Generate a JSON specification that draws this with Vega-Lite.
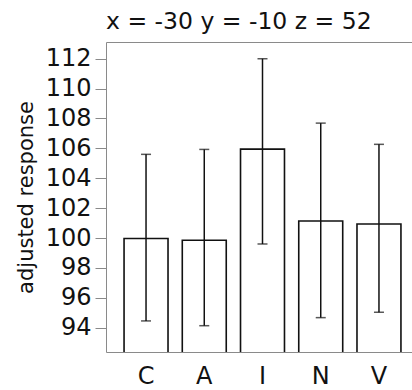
{
  "$schema": "https://vega.github.io/schema/vega-lite/v6.json",
  "autosize": "none",
  "padding": {"left": 106, "top": 42, "right": 0, "bottom": 38},
  "width": 313,
  "height": 310,
  "background": "white",
  "config": {
    "font": "DejaVu Sans",
    "view": {"stroke": "#8a8a8a", "strokeWidth": 1}
  },
  "title": {
    "text": "x = -30 y = -10 z = 52",
    "anchor": "start",
    "frame": "group",
    "fontSize": 23.5,
    "fontWeight": "normal",
    "font": "DejaVu Sans",
    "color": "#111",
    "offset": 9
  },
  "data": {
    "values": [
      {"group": "C", "response": 99.97, "lo": 94.45, "hi": 105.6},
      {"group": "A", "response": 99.85, "lo": 94.13, "hi": 105.93},
      {"group": "I", "response": 105.95, "lo": 99.6, "hi": 112.0},
      {"group": "N", "response": 101.14, "lo": 94.67, "hi": 107.69},
      {"group": "V", "response": 100.94, "lo": 95.03, "hi": 106.27}
    ]
  },
  "encoding": {
    "x": {
      "field": "group",
      "type": "nominal",
      "sort": null,
      "scale": {"paddingInner": 0.245, "paddingOuter": 0.31},
      "axis": {
        "title": null,
        "labelAngle": 0,
        "ticks": false,
        "domain": false,
        "labelFontSize": 24,
        "labelColor": "#111",
        "labelPadding": 12
      }
    }
  },
  "layer": [
    {
      "mark": {"type": "bar", "fill": "white", "stroke": "#111", "strokeWidth": 1.6, "clip": true},
      "encoding": {
        "y": {
          "field": "response",
          "type": "quantitative",
          "scale": {"domain": [92.37, 113.12], "zero": false, "nice": false},
          "axis": {
            "title": "adjusted response",
            "titleFontSize": 21,
            "titleFontWeight": "normal",
            "titleColor": "#111",
            "titlePadding": 9,
            "values": [94, 96, 98, 100, 102, 104, 106, 108, 110, 112],
            "labelOverlap": false,
            "labelFontSize": 24,
            "labelColor": "#111",
            "labelPadding": 4,
            "tickColor": "#8a8a8a",
            "tickSize": 11,
            "domain": false,
            "grid": false
          }
        }
      }
    },
    {
      "mark": {"type": "rule", "color": "#111", "strokeWidth": 1.5},
      "encoding": {
        "y": {
          "field": "lo",
          "type": "quantitative",
          "scale": {"domain": [92.37, 113.12], "zero": false, "nice": false},
          "axis": {
            "title": "adjusted response",
            "titleFontSize": 21,
            "titleFontWeight": "normal",
            "titleColor": "#111",
            "titlePadding": 9,
            "values": [94, 96, 98, 100, 102, 104, 106, 108, 110, 112],
            "labelOverlap": false,
            "labelFontSize": 24,
            "labelColor": "#111",
            "labelPadding": 4,
            "tickColor": "#8a8a8a",
            "tickSize": 11,
            "domain": false,
            "grid": false
          }
        },
        "y2": {"field": "hi"}
      }
    },
    {
      "mark": {"type": "tick", "color": "#111", "thickness": 1.5, "size": 10, "orient": "horizontal"},
      "encoding": {
        "y": {
          "field": "lo",
          "type": "quantitative",
          "scale": {"domain": [92.37, 113.12], "zero": false, "nice": false},
          "axis": {
            "title": "adjusted response",
            "titleFontSize": 21,
            "titleFontWeight": "normal",
            "titleColor": "#111",
            "titlePadding": 9,
            "values": [94, 96, 98, 100, 102, 104, 106, 108, 110, 112],
            "labelOverlap": false,
            "labelFontSize": 24,
            "labelColor": "#111",
            "labelPadding": 4,
            "tickColor": "#8a8a8a",
            "tickSize": 11,
            "domain": false,
            "grid": false
          }
        }
      }
    },
    {
      "mark": {"type": "tick", "color": "#111", "thickness": 1.5, "size": 10, "orient": "horizontal"},
      "encoding": {
        "y": {
          "field": "hi",
          "type": "quantitative",
          "scale": {"domain": [92.37, 113.12], "zero": false, "nice": false},
          "axis": {
            "title": "adjusted response",
            "titleFontSize": 21,
            "titleFontWeight": "normal",
            "titleColor": "#111",
            "titlePadding": 9,
            "values": [94, 96, 98, 100, 102, 104, 106, 108, 110, 112],
            "labelOverlap": false,
            "labelFontSize": 24,
            "labelColor": "#111",
            "labelPadding": 4,
            "tickColor": "#8a8a8a",
            "tickSize": 11,
            "domain": false,
            "grid": false
          }
        }
      }
    }
  ]
}
